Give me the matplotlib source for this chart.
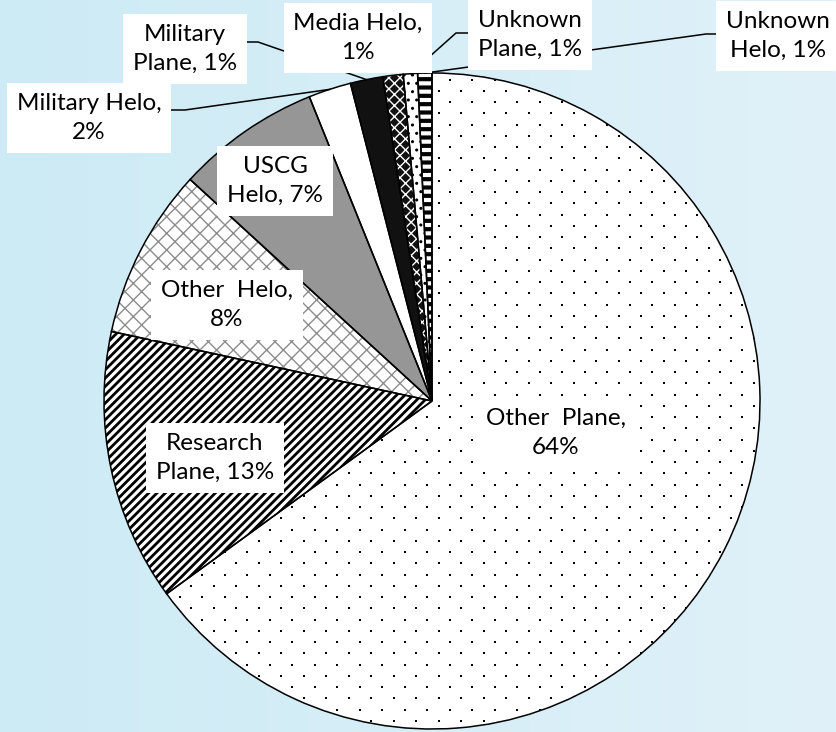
import numpy as np
import matplotlib.pyplot as plt

# pie data, clockwise from 12 o'clock
categories = ['Other Plane', 'Research Plane', 'Other Helo', 'USCG Helo', 'Military Helo',
              'Military Plane', 'Media Helo', 'Unknown Plane', 'Unknown Helo']
shares = [65.0, 13.4, 8.4, 7.1, 2.1, 1.6, 1.0, 0.7, 0.7]
label_texts = ['Other  Plane,\n64%', 'Research\nPlane, 13%', 'Other  Helo,\n8%', 'USCG\nHelo, 7%',
               'Military Helo,\n2%', 'Military\nPlane, 1%', 'Media Helo,\n1%', 'Unknown\nPlane, 1%',
               'Unknown\nHelo, 1%']

W, H = 837, 732
CX, CY, R = 432, H - 401, 328

# slice styles (Other Plane gets its own dot texture below)
faces = ['white', 'white', 'white', '#969696', 'white', '#111111', '#111111', 'white', 'white']
hatches = [None, '////', 'xx', None, None, None, 'xxx', '..', '--']
hatch_cols = ['black', 'black', '#8c8c8c', 'black', 'black', 'black', 'white', 'black', 'black']
hatch_lws = [1.0, 2.0, 1.0, 1.0, 1.0, 1.0, 1.0, 1.0, 3.0]

# label box centres (pixels from top-left) and leader elbows
label_pos = [(556, 433), (215, 458), (227, 305), (275, 181), (89, 118),
             (185, 49), (358, 38), (530, 35), (778, 36)]
elbows = {4: [(170, 110), (185, 110)], 5: [(243, 42), (258, 42)],
          7: [(471, 33), (456, 33)], 8: [(721, 34), (706, 34)]}

plt.rcParams['hatch.linewidth'] = 1.0

fig = plt.figure(figsize=(W / 100, H / 100), dpi=100)
ax = fig.add_axes([0, 0, 1, 1])

# light blue background
grad = np.linspace(0, 1, 256)[None, :, None]
c1 = np.array([205, 235, 245]) / 255
c2 = np.array([224, 241, 249]) / 255
ax.imshow(c1 + (c2 - c1) * grad, extent=[0, W, 0, H], aspect='auto', zorder=0)

wedges, _ = ax.pie(shares, startangle=90, counterclock=False, center=(CX, CY), radius=R,
                   wedgeprops=dict(linewidth=0))
for w, fc, h, hc, hlw in zip(wedges, faces, hatches, hatch_cols, hatch_lws):
    w.set_facecolor(fc)
    w.set_edgecolor(hc)
    w.set_zorder(1)
    if h:
        w.set_hatch(h)
        w.set_hatch_linewidth(hlw)

# sparse diagonal dot grid for the big slice
gx, gy = np.meshgrid(np.arange(0, W, 22.5), np.arange(0, H, 11.25))
gx[1::2] += 11.25
dots, = ax.plot(gx.ravel(), gy.ravel(), 's', color='black', ms=1.7, mew=0, zorder=1.5)
dots.set_clip_path(wedges[0])

outline, _ = ax.pie(shares, startangle=90, counterclock=False, center=(CX, CY), radius=R,
                    wedgeprops=dict(fill=False, edgecolor='black', linewidth=1.1))
for w in outline:
    w.set_zorder(2)

# leader lines to the middle of the small slices
for i, pts in elbows.items():
    w = wedges[i]
    mid = np.deg2rad((w.theta1 + w.theta2) / 2)
    xs = [p[0] for p in pts] + [CX + R * np.cos(mid)]
    ys = [H - p[1] for p in pts] + [CY + R * np.sin(mid)]
    ax.plot(xs, ys, color='black', lw=1.1, zorder=3)

for txt, (x, y) in zip(label_texts, label_pos):
    ax.text(x, H - y, txt, ha='center', va='center', fontsize=17.5, family='Lato',
            linespacing=1.45, zorder=5,
            bbox=dict(boxstyle='square,pad=0.4', fc='white', ec='none'))

ax.set_aspect('equal')
ax.set_xlim(0, W)
ax.set_ylim(0, H)
ax.axis('off')

fig.savefig('out.png', dpi=100)
